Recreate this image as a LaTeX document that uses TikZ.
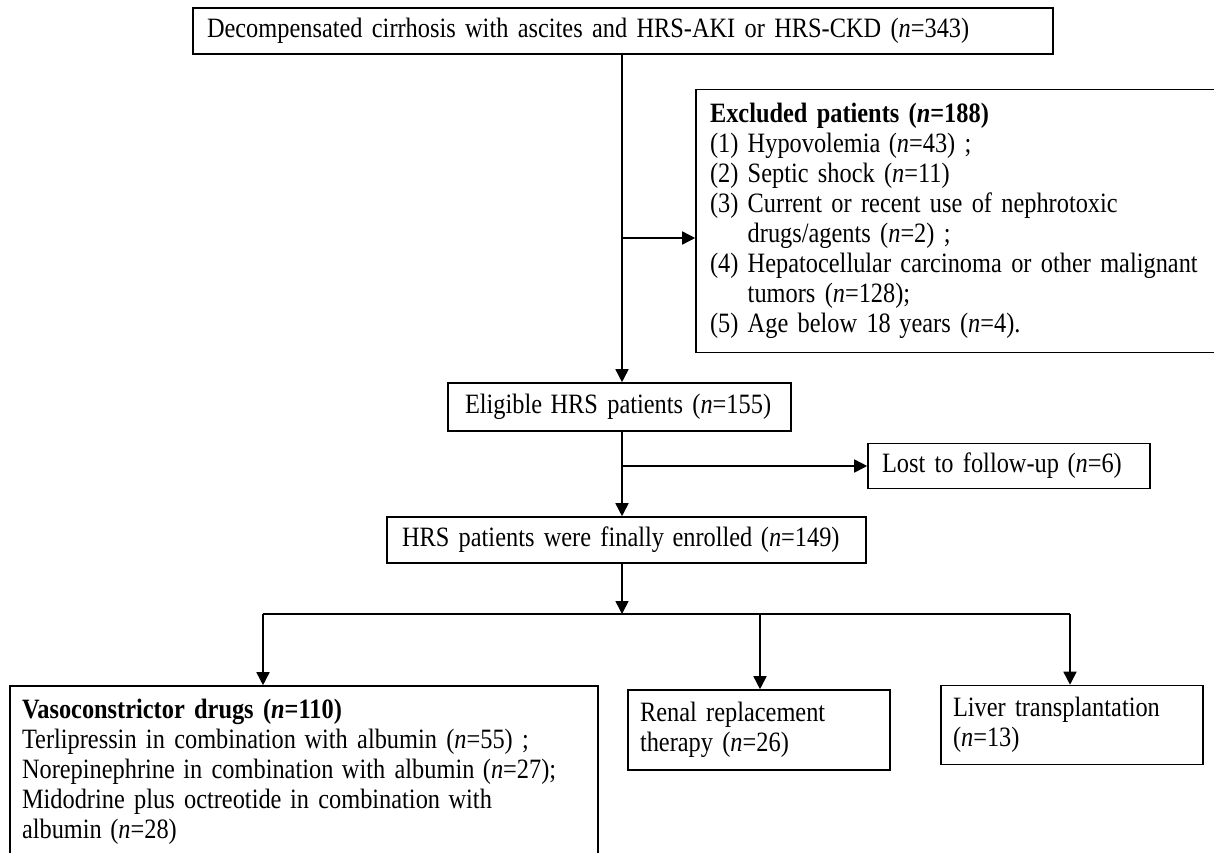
\documentclass[tikz,border=0pt]{standalone}
\usepackage{fontspec}
\setmainfont{Liberation Serif}[FakeStretch=0.87]
\usetikzlibrary{arrows.meta}
\newcommand{\wspx}{\hspace{8.5pt}}
\begin{document}
\begin{tikzpicture}[x=1pt,y=-1pt,
  box/.style={draw=black, line width=1.6pt, rectangle, inner ysep=0pt, inner xsep=14pt,
    align=left, font=\fontsize{28}{30}\selectfont},
  arr/.style={line width=1.6pt, -{Triangle[length=13pt,width=13pt]}},
  ln/.style={line width=1.6pt}]
\useasboundingbox (0,0) rectangle (1214,852);
\fill[white] (0,0) rectangle (1214,852);
% boxes
\node[box, minimum width=860pt, text width=832pt, minimum height=46pt] (top) at (623,31)
  {\mbox{Decompensated cirrhosis with ascites and HRS-AKI or HRS-CKD (\textit{n}=343)}};
\node[box, minimum width=520pt, text width=492pt, minimum height=263pt] (excl) at (956,221)
  {\mbox{\textbf{Excluded patients (\textit{n}=188)}}\\
   \mbox{(1) Hypovolemia\wspx(\textit{n}=43) ;}\\
   \mbox{(2) Septic shock (\textit{n}=11)}\\
   \mbox{(3) Current or recent use of nephrotoxic}\\
   \mbox{\hphantom{(3) }drugs/agents (\textit{n}=2) ;}\\
   \mbox{(4) Hepatocellular carcinoma or other malignant}\\
   \mbox{\hphantom{(4) }tumors (\textit{n}=128);}\\
   \mbox{(5) Age below 18\wspx years (\textit{n}=4).}};
\node[box, inner xsep=17pt, minimum width=343pt, text width=309pt, minimum height=48pt] (elig) at (619.5,407)
  {\mbox{Eligible\wspx HRS patients (\textit{n}=155)}};
\node[box, minimum width=282pt, text width=254pt, minimum height=45pt] (lost) at (1009,466)
  {\mbox{Lost to follow-up\wspx(\textit{n}=6)}};
\node[box, inner xsep=15pt, minimum width=479pt, text width=449pt, minimum height=46pt] (enr) at (626.5,540)
  {\mbox{HRS patients were finally\wspx enrolled\wspx(\textit{n}=149)}};
\node[box, inner xsep=12pt, minimum width=588pt, text width=564pt, minimum height=172pt] (vaso) at (304,772)
  {\mbox{\textbf{Vasoconstrictor drugs (\textit{n}=110)}}\\
   \mbox{Terlipressin in combination\wspx with albumin (\textit{n}=55) ;}\\
   \mbox{Norepinephrine\wspx in combination\wspx with albumin\wspx(\textit{n}=27);}\\
   \mbox{Midodrine plus octreotide\wspx in combination\wspx with}\\
   \mbox{albumin\wspx(\textit{n}=28)}};
\node[box, inner xsep=12pt, minimum width=262pt, text width=238pt, minimum height=80pt] (rrt) at (759,730)
  {\mbox{Renal replacement}\\\mbox{therapy (\textit{n}=26)}};
\node[box, inner xsep=12pt, minimum width=262pt, text width=238pt, minimum height=79pt] (liver) at (1072,725)
  {\mbox{Liver transplantation}\\\mbox{(\textit{n}=13)}};
% junction coordinates
\coordinate (spine) at (622,0);
\coordinate (exj) at (622,238);
\coordinate (lj) at (622,466);
\coordinate (br) at (622,614);
\coordinate (bl) at (263,614);
\coordinate (bm) at (760,614);
\coordinate (brr) at (1070,614);
% connectors
\draw[arr] (top.south -| spine) -- (elig.north -| spine);
\draw[arr] (exj) -- (exj -| excl.west);
\draw[arr] (elig.south -| spine) -- (enr.north -| spine);
\draw[arr] (lj) -- (lost.west);
\draw[arr] (enr.south -| spine) -- (br);
\draw[ln] (bl) -- (brr);
\draw[arr] (bl) -- (bl |- vaso.north);
\draw[arr] (bm) -- (bm |- rrt.north);
\draw[arr] (brr) -- (brr |- liver.north);
\end{tikzpicture}
\end{document}
